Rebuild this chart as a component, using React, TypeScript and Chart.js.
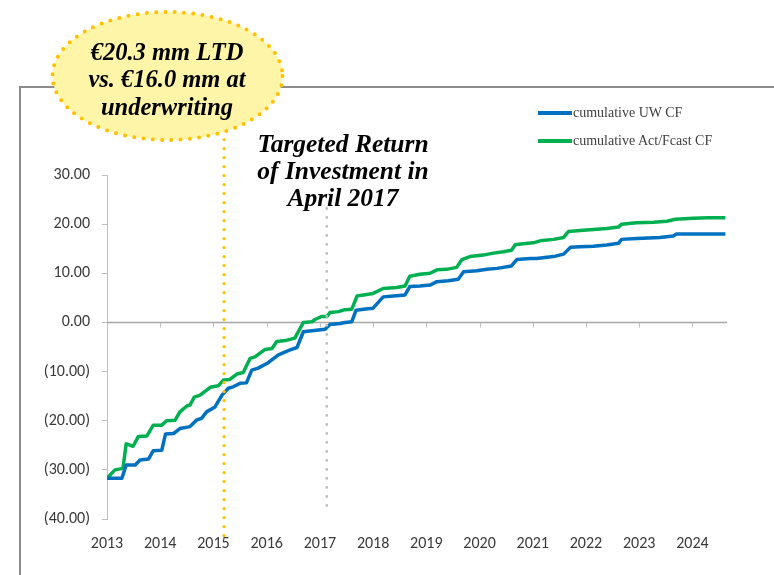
import React, { useEffect, useRef } from "react";
import { Chart, registerables } from "chart.js";

Chart.register(...registerables);

// ---- data ----
const uwYears = [
  2013.0, 2013.28, 2013.36, 2013.53, 2013.62, 2013.78, 2013.87, 2014.03, 2014.1, 2014.25,
  2014.37, 2014.56, 2014.68, 2014.78, 2014.87, 2015.03, 2015.16, 2015.28, 2015.37, 2015.5,
  2015.62, 2015.72, 2015.84, 2016.03, 2016.22, 2016.44, 2016.57, 2016.69, 2016.85, 2017.1,
  2017.19, 2017.38, 2017.47, 2017.6, 2017.68, 2017.82, 2018.0, 2018.19, 2018.38, 2018.6,
  2018.69, 2018.88, 2019.07, 2019.2, 2019.41, 2019.6, 2019.7, 2019.95, 2020.14, 2020.33,
  2020.6, 2020.7, 2020.95, 2021.07, 2021.39, 2021.58, 2021.71, 2021.89, 2022.14, 2022.39,
  2022.61, 2022.67, 2022.95, 2023.39, 2023.64, 2023.7, 2024.02, 2024.62,
];
const uwValues = [
  -31.7, -31.7, -29.0, -29.0, -28.0, -27.8, -26.1, -26.0, -22.7, -22.6,
  -21.6, -21.2, -19.9, -19.5, -18.2, -17.2, -14.8, -13.4, -13.1, -12.4,
  -12.3, -9.7, -9.3, -8.2, -6.6, -5.6, -5.1, -1.9, -1.7, -1.4,
  -0.4, -0.2, 0.0, 0.15, 2.5, 2.7, 2.9, 5.2, 5.4, 5.6,
  7.3, 7.4, 7.6, 8.3, 8.5, 8.8, 10.3, 10.5, 10.8, 11.0,
  11.5, 12.8, 13.0, 13.0, 13.4, 13.9, 15.3, 15.4, 15.5, 15.75,
  16.1, 16.9, 17.1, 17.3, 17.6, 18.0, 18.0, 18.0,
];
const actYears = [
  2013.0, 2013.15, 2013.3, 2013.36, 2013.49, 2013.59, 2013.75, 2013.87, 2014.03, 2014.12,
  2014.28, 2014.37, 2014.5, 2014.56, 2014.64, 2014.75, 2014.94, 2015.09, 2015.19, 2015.31,
  2015.44, 2015.56, 2015.69, 2015.78, 2015.97, 2016.1, 2016.19, 2016.35, 2016.53, 2016.69,
  2016.85, 2016.91, 2017.03, 2017.13, 2017.19, 2017.35, 2017.47, 2017.6, 2017.7, 2017.82,
  2018.0, 2018.19, 2018.44, 2018.6, 2018.69, 2018.88, 2019.07, 2019.2, 2019.38, 2019.57,
  2019.67, 2019.82, 2020.07, 2020.26, 2020.45, 2020.6, 2020.67, 2020.82, 2021.01, 2021.14,
  2021.39, 2021.58, 2021.67, 2021.89, 2022.14, 2022.39, 2022.61, 2022.67, 2022.95, 2023.27,
  2023.52, 2023.68, 2024.02, 2024.3, 2024.62,
];
const actValues = [
  -31.7, -30.0, -29.7, -24.7, -25.2, -23.2, -23.1, -20.9, -20.9, -20.0,
  -19.9, -18.2, -17.0, -16.8, -15.2, -14.8, -13.2, -12.9, -11.7, -11.6,
  -10.5, -10.2, -7.3, -7.0, -5.5, -5.3, -3.9, -3.7, -3.2, 0.0,
  0.15, 0.6, 1.2, 1.2, 2.0, 2.2, 2.6, 2.7, 5.4, 5.6,
  5.9, 6.9, 7.1, 7.4, 9.4, 9.8, 10.0, 10.7, 10.8, 11.2,
  12.8, 13.4, 13.7, 14.1, 14.4, 14.7, 15.8, 16.0, 16.2, 16.6,
  16.9, 17.3, 18.5, 18.7, 18.9, 19.1, 19.4, 20.0, 20.3, 20.4,
  20.6, 21.0, 21.2, 21.3, 21.3,
];
const seriesLabels = ["cumulative UW CF", "cumulative Act/Fcast CF"];
const seriesColors = ["#0070C0", "#00B050"];
const xTickYears = [2013, 2014, 2015, 2016, 2017, 2018, 2019, 2020, 2021, 2022, 2023, 2024];
const yMin = -40;
const yMax = 30;
const yStep = 10;
const xMin = 2013;
const xMax = 2024.65;

// vertical dotted markers (x in years, extent in value units)
const markerYears = [2015.2, 2017.13];
const markerTop = [37.2, 23.2];
const markerBottom = [-43.8, -37.5];
const markerColors = ["#FFC000", "#BDBDBD"];
const markerWidths = [3.4, 2.8];

const calloutLines = ["€20.3 mm LTD", "vs. €16.0 mm at", "underwriting"];
const noteLines = ["Targeted Return", "of Investment in", "April 2017"];

const fmtY = (v: number) => (v < 0 ? `(${Math.abs(v).toFixed(2)})` : v.toFixed(2));

const overlayPlugin = {
  id: "overlay",
  beforeDatasetsDraw(chart: any) {
    const { ctx, chartArea, scales } = chart;
    const xs = scales.x;
    const ys = scales.y;
    const y0 = Math.round(ys.getPixelForValue(0)) + 0.5;
    ctx.save();
    ctx.strokeStyle = "#A6A6A6";
    ctx.lineWidth = 1.5;
    ctx.beginPath();
    ctx.moveTo(chartArea.left, y0);
    ctx.lineTo(chartArea.right, y0);
    ctx.stroke();
    ctx.lineWidth = 1;
    ctx.strokeStyle = "#BFBFBF";
    ctx.beginPath();
    xTickYears.forEach((yr) => {
      if (yr === xMin) return;
      const px = Math.round(xs.getPixelForValue(yr)) + 0.5;
      ctx.moveTo(px, y0);
      ctx.lineTo(px, y0 + 5);
    });
    ctx.stroke();
    ctx.restore();
  },
  afterDatasetsDraw(chart: any) {
    const { ctx, scales } = chart;
    const xs = scales.x;
    const ys = scales.y;
    ctx.save();
    markerYears.forEach((yr, i) => {
      const px = xs.getPixelForValue(yr);
      ctx.strokeStyle = markerColors[i];
      ctx.lineWidth = markerWidths[i];
      ctx.lineCap = "round";
      ctx.setLineDash([0, 9]);
      ctx.beginPath();
      ctx.moveTo(px, ys.getPixelForValue(markerTop[i]));
      ctx.lineTo(px, ys.getPixelForValue(markerBottom[i]));
      ctx.stroke();
    });
    ctx.restore();
  },
};

export default function App() {
  const canvasRef = useRef<HTMLCanvasElement | null>(null);

  useEffect(() => {
    const canvas = canvasRef.current;
    if (!canvas) return;
    const chart = new Chart(canvas, {
      type: "line",
      data: {
        datasets: [
          {
            label: seriesLabels[0],
            data: uwYears.map((x, i) => ({ x, y: uwValues[i] })),
            borderColor: seriesColors[0],
            backgroundColor: seriesColors[0],
            borderWidth: 3.5,
            pointRadius: 0,
            tension: 0,
            fill: false,
            borderJoinStyle: "round",
          },
          {
            label: seriesLabels[1],
            data: actYears.map((x, i) => ({ x, y: actValues[i] })),
            borderColor: seriesColors[1],
            backgroundColor: seriesColors[1],
            borderWidth: 3.5,
            pointRadius: 0,
            tension: 0,
            fill: false,
            borderJoinStyle: "round",
          },
        ],
      },
      options: {
        animation: false,
        responsive: false,
        maintainAspectRatio: false,
        layout: { padding: { left: 40, top: 175, right: 47, bottom: 23 } },
        plugins: {
          legend: { display: false },
          tooltip: { enabled: false },
        },
        scales: {
          x: {
            type: "linear",
            position: "bottom",
            min: xMin,
            max: xMax,
            grid: { display: false, drawTicks: false },
            border: { display: false },
            ticks: {
              stepSize: 1,
              includeBounds: false,
              autoSkip: false,
              maxRotation: 0,
              padding: 15,
              color: "#3A3A3A",
              font: { family: "Carlito, Lato, sans-serif", size: 16 },
              callback: (v: any) => String(v),
            },
            afterFit: (s: any) => {
              s.height = 33;
            },
          },
          y: {
            type: "linear",
            min: yMin,
            max: yMax,
            grid: {
              display: true,
              drawOnChartArea: false,
              drawTicks: true,
              tickLength: 5,
              color: "#BFBFBF",
              lineWidth: 1,
            },
            border: { display: true, color: "#BFBFBF", width: 1 },
            ticks: {
              stepSize: yStep,
              padding: 12,
              color: "#3A3A3A",
              font: { family: "Carlito, Lato, sans-serif", size: 16 },
              callback: (v: any) => fmtY(Number(v)),
            },
            afterFit: (s: any) => {
              s.width = 67;
            },
          },
        },
      },
      plugins: [overlayPlugin],
    } as any);
    return () => chart.destroy();
  }, []);

  const serifBI: React.CSSProperties = {
    fontFamily: "'Liberation Serif', 'Times New Roman', serif",
    fontStyle: "italic",
    fontWeight: "bold",
    color: "#000",
  };

  return (
    <div
      style={{
        position: "fixed",
        left: 0,
        top: 0,
        width: 774,
        height: 575,
        background: "#fff",
        overflow: "hidden",
      }}
    >
      {/* frame */}
      <div
        style={{
          position: "absolute",
          left: 19,
          top: 86,
          width: 800,
          height: 600,
          borderTop: "2px solid #8C8C8C",
          borderLeft: "2px solid #8C8C8C",
          boxSizing: "border-box",
        }}
      />
      <canvas
        ref={canvasRef}
        width={774}
        height={575}
        style={{ position: "absolute", left: 0, top: 0, width: 774, height: 575 }}
      />
      {/* legend */}
      <div
        style={{
          position: "absolute",
          left: 538,
          top: 103,
          fontFamily: "'Liberation Serif', 'Times New Roman', serif",
          fontSize: 14,
          color: "#404040",
        }}
      >
        {seriesLabels.map((lab, i) => (
          <div key={lab} style={{ display: "flex", alignItems: "center", height: 20, marginBottom: i === 0 ? 8 : 0 }}>
            <div style={{ width: 34, height: 3.5, background: seriesColors[i], marginRight: 1 }} />
            <span style={{ whiteSpace: "nowrap" }}>{lab}</span>
          </div>
        ))}
      </div>
      {/* callout ellipse */}
      <svg
        width={774}
        height={575}
        style={{ position: "absolute", left: 0, top: 0, pointerEvents: "none" }}
      >
        <ellipse
          cx={167.5}
          cy={76}
          rx={115}
          ry={64}
          fill="#FFF5A8"
          stroke="#FFC000"
          strokeWidth={4}
          strokeDasharray="0 9.3"
          strokeLinecap="round"
        />
      </svg>
      <div
        style={{
          ...serifBI,
          position: "absolute",
          left: 67,
          top: 37.5,
          width: 200,
          textAlign: "center",
          fontSize: 24.5,
          lineHeight: "27.5px",
          whiteSpace: "nowrap",
        }}
      >
        {calloutLines.map((l) => (
          <div key={l}>{l}</div>
        ))}
      </div>
      <div
        style={{
          ...serifBI,
          position: "absolute",
          left: 243,
          top: 129.5,
          width: 200,
          textAlign: "center",
          fontSize: 25.5,
          lineHeight: "27px",
          whiteSpace: "nowrap",
        }}
      >
        {noteLines.map((l) => (
          <div key={l}>{l}</div>
        ))}
      </div>
    </div>
  );
}
